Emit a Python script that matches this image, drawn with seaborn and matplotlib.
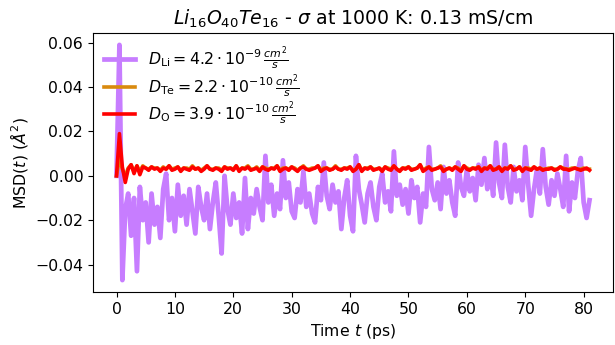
import numpy as np
import pandas as pd
import matplotlib
matplotlib.use("Agg")
import matplotlib.pyplot as plt
import seaborn as sns

dt = 0.5  # ps between samples

# MSD values in 1e-3 Å^2
msd_li = [0, 59, -47, -15, -8, -27, -10, -43, -5, -20, -12, -30, -8, -22, -14, -28, -6, 1, -20, -10,
          -25, -4, -18, -9, -22, -6, -16, -26, -5, -14, -20, -8, -24, -12, -3, -18, -35, 0, -15, -22,
          -8, -19, -12, -26, -1, -24, -10, -17, -6, -14, -20, 9, -12, -4, -18, -8, -15, 7, -10, -3,
          -16, -19, -6, -12, 2, -14, -8, -17, -21, -5, -11, 6, -9, -15, -4, -12, -7, -24, -10, -2,
          -18, -25, 9, -6, -13, -21, -8, -3, -14, -20, -5, 1, -12, -7, -16, 11, -9, -4, -13, -6,
          -17, -2, -10, -5, -21, -8, -14, 13, -6, -11, -3, -15, 4, -8, -2, -12, -18, 6, -5, -9,
          3, -7, -1, -11, 5, -4, 8, -6, 2, -9, 15, -3, -10, 14, -5, -12, 4, -7, -2, -11,
          13, -4, -18, -6, 3, -8, 12, -5, -13, -2, -9, 1, -6, -14, 9, -16, -3, -10, 2, 8,
          -12, -19, -11]
msd_te = [0, 8, 3, 0, 3.5, 5, 2, 4.5, 2, 4.5, 3.5, 3, 4, 3.5, 3.5, 2.5, 4, 3, 4.5, 3,
          3.5, 4, 2.5, 3.5, 3.5, 3, 4.5, 3, 3.5, 2.5, 3.5, 4.5, 3, 3, 3.5, 3.5, 2.5, 4, 3.5, 3.5,
          3, 4.5, 2.5, 3.5, 3.5, 4.5, 3, 3, 4, 2.5, 4, 3.5, 3, 3.5, 3.5, 4.5, 2.5, 3.5, 3.5, 3,
          4, 3.5, 2.5, 3.5, 4.5, 3, 3, 3.5, 3.5, 4.5, 2.5, 3.5, 3.5, 3, 3, 4.5, 3, 3, 3.5, 3.5,
          4, 2.5, 3, 5, 2.5, 3.5, 3.5, 4, 3, 3, 3.5, 2.5, 4, 3.5, 3, 4.5, 3, 2.5, 3.5, 3.5,
          4, 3, 3, 3.5, 5, 2.5, 3.5, 4, 3, 3, 3.5, 4.5, 2.5, 3, 3.5, 3, 4, 3.5, 2.5, 4.5,
          3.5, 3, 3.5, 3.5, 4, 2.5, 3.5, 3.5, 4.5, 3, 3, 4, 2.5, 3.5, 3.5, 4.5, 3, 3, 4, 2.5,
          3.5, 3.5, 3, 4, 3, 3.5, 3, 3, 3.5, 3.5, 3, 3, 4, 3.5, 3, 3, 3.5, 3.5, 3, 3,
          3.5, 3, 3]
msd_o = [0, 19, 4, -3, 3, 5, 1, 4.5, 0.5, 4, 3.5, 2.5, 4, 3, 3.5, 2, 3.5, 3, 4.5, 2.5,
         3, 4, 2, 3.5, 3, 2.5, 4, 3, 3.5, 2, 3, 4.5, 3, 2.5, 3.5, 3, 2, 4, 3, 3.5,
         2.5, 4.5, 2, 3.5, 3, 4, 2.5, 3, 3.5, 2, 4, 3, 2.5, 3.5, 3, 4.5, 2, 3, 3.5, 2.5,
         4, 3, 2, 3.5, 4, 3, 2.5, 3, 3.5, 4.5, 2, 3, 3.5, 2.5, 3, 4, 3, 2.5, 3.5, 3,
         4, 2, 3, 5, 2, 3.5, 3, 4, 2.5, 3, 3.5, 2, 4, 3, 2.5, 4.5, 3, 2, 3.5, 3,
         4, 2.5, 3, 3.5, 5, 2, 3, 4, 2.5, 3, 3.5, 4, 2, 3, 3.5, 2.5, 4, 3, 2, 4.5,
         3, 2.5, 3.5, 3, 4, 2, 3.5, 3, 4.5, 2.5, 3, 4, 2, 3.5, 3, 4.5, 2.5, 3, 4, 2,
         3.5, 3, 2.5, 4, 3, 3.5, 2.5, 3, 3, 3.5, 2.5, 3, 4, 3, 3, 2.5, 3, 3.5, 3, 2.5,
         3, 3.5, 2.5]

labels = [r'$D_{\mathrm{Li}} = 4.2 \cdot 10^{-9} \, \frac{cm^2}{s}$',
          r'$D_{\mathrm{Te}} = 2.2 \cdot 10^{-10} \, \frac{cm^2}{s}$',
          r'$D_{\mathrm{O}} = 3.9 \cdot 10^{-10} \, \frac{cm^2}{s}$']
colors = ['#c77dff', '#d98a0e', '#ff0000']
widths = [3.4, 2.6, 2.6]

plt.rcParams['font.size'] = 11.3

fig, ax = plt.subplots(figsize=(6.15, 3.45), dpi=100)
for vals, lab, col, lw in zip([msd_li, msd_te, msd_o], labels, colors, widths):
    df = pd.DataFrame({'t': np.arange(len(vals)) * dt, 'msd': np.array(vals) * 1e-3})
    sns.lineplot(data=df, x='t', y='msd', ax=ax, color=col, linewidth=lw,
                 label=lab, estimator=None)

ax.set_title(r'$Li_{16}O_{40}Te_{16}$ - $\sigma$ at 1000 K: 0.13 mS/cm', fontsize=13.6)
ax.set_xlabel(r'Time $t$ (ps)')
ax.set_ylabel(r'MSD$(t)$ ($\AA^2$)')
ax.set_xticks([0, 10, 20, 30, 40, 50, 60, 70, 80])
ax.set_yticks([-0.04, -0.02, 0.0, 0.02, 0.04, 0.06])
ax.legend(loc='upper left', frameon=False, fontsize=11.3, handlelength=2,
          borderaxespad=0.3, labelspacing=0.0)
fig.subplots_adjust(left=0.151, right=0.997, top=0.904, bottom=0.154)
fig.savefig('out.png', dpi=100)
